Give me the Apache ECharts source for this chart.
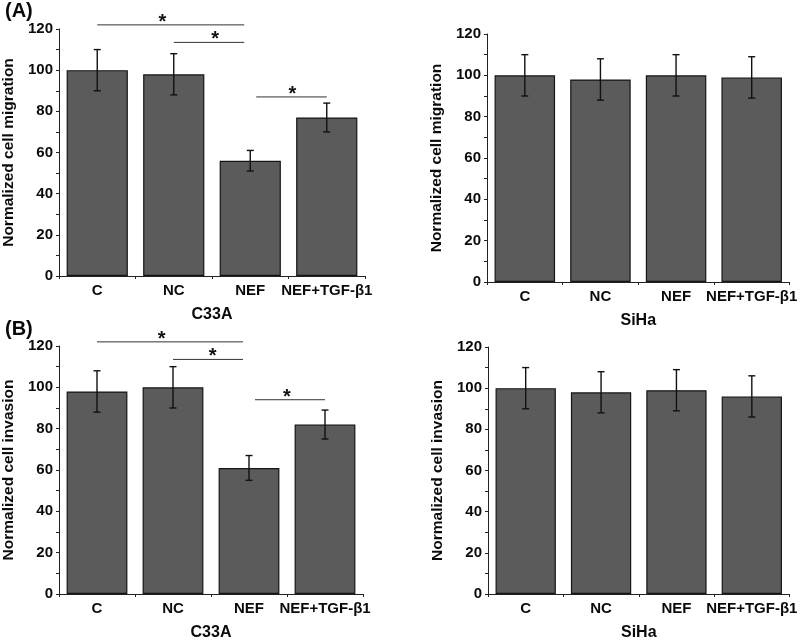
<!DOCTYPE html>
<html>
<head>
<meta charset="utf-8">
<script src="https://cdn.jsdelivr.net/npm/echarts@6/dist/echarts.min.js"></script>
<style>
html,body{margin:0;padding:0;background:#fff;}
#chart{width:800px;height:642px;}
</style>
</head>
<body>
<div id="chart"></div>
<script>
// ---- data ----
var categories = ['C', 'NC', 'NEF', 'NEF+TGF-\u03b21'];
var yTicks = [0, 20, 40, 60, 80, 100, 120];

var migC33A = [100, 98, 56, 77];
var migC33AErr = [10, 10, 5, 7];
var migSiHa = [100, 98, 100, 99];
var migSiHaErr = [10, 10, 10, 10];

var invC33A = [98, 100, 61, 82];
var invC33AErr = [10, 10, 6, 7];
var invSiHa = [100, 98, 99, 96];
var invSiHaErr = [10, 10, 10, 10];

// significance brackets: [fromIndex, toIndex, yValue, starPosition (category units)]
var sigMigC33A = [[0, 2, 122, 0.85], [1, 2, 113.5, 1.54], [2, 3, 87, 2.55]];
var sigInvC33A = [[0, 2, 122, 0.85], [1, 2, 113.5, 1.52], [2, 3, 94, 2.5]];

var panelLabels = ['(A)', '(B)'];
var cellLines = ['C33A', 'SiHa'];
var yNames = ['Normalized cell migration', 'Normalized cell invasion'];

// ---- layout ----
var grids = [
  {left: 59, top: 29, width: 306, height: 247},
  {left: 487, top: 34, width: 305, height: 248},
  {left: 59, top: 346, width: 304, height: 248},
  {left: 488, top: 347, width: 305, height: 249}
];
var panels = [
  {vals: migC33A, err: migC33AErr, sig: sigMigC33A, name: cellLines[0], yName: yNames[0]},
  {vals: migSiHa, err: migSiHaErr, sig: null, name: cellLines[1], yName: yNames[0]},
  {vals: invC33A, err: invC33AErr, sig: sigInvC33A, name: cellLines[0], yName: yNames[1]},
  {vals: invSiHa, err: invSiHaErr, sig: null, name: cellLines[1], yName: yNames[1]}
];

var FONT = 'Liberation Sans, Arial, sans-serif';
var TXT = '#0a0a0a';
var xAxes = [], yAxes = [], series = [];

panels.forEach(function (p, i) {
  xAxes.push({
    type: 'category', gridIndex: i, data: categories,
    name: p.name, nameLocation: 'middle', nameGap: 31,
    nameTextStyle: {fontFamily: FONT, fontWeight: 'bold', fontSize: 16, color: TXT},
    axisLine: {lineStyle: {color: '#222', width: 1}},
    axisTick: {alignWithLabel: true, length: 3, lineStyle: {color: '#222'}},
    axisLabel: {fontFamily: FONT, fontWeight: 'bold', fontSize: 15, color: TXT, margin: 7, interval: 0},
    splitLine: {show: false}
  });
  xAxes.push({
    type: 'category', gridIndex: i, data: categories, position: 'bottom',
    axisLine: {show: false},
    axisTick: {show: true, length: 3, interval: 0, lineStyle: {color: '#222'}},
    axisLabel: {show: false},
    splitLine: {show: false}
  });
  yAxes.push({
    type: 'value', gridIndex: i, min: yTicks[0], max: yTicks[yTicks.length - 1], interval: 20,
    name: p.yName, nameLocation: 'middle', nameGap: 42, nameRotate: 90,
    nameTextStyle: {fontFamily: FONT, fontWeight: 'bold', fontSize: 15.5, color: TXT},
    axisLine: {show: true, lineStyle: {color: '#222', width: 1}},
    axisTick: {show: true, length: 3, lineStyle: {color: '#222'}},
    minorTick: {show: true, splitNumber: 2, length: 3, lineStyle: {color: '#222'}},
    axisLabel: {fontFamily: FONT, fontWeight: 'bold', fontSize: 15, color: TXT, margin: 6},
    splitLine: {show: false}
  });
  var xi = i * 2;
  series.push({
    type: 'bar', xAxisIndex: xi, yAxisIndex: i, data: p.vals, barWidth: '80%',
    itemStyle: {color: '#5b5b5b', borderColor: '#151515', borderWidth: 1.2},
    silent: true
  });
  series.push({
    type: 'custom', xAxisIndex: xi, yAxisIndex: i, silent: true, z: 5,
    data: p.vals.map(function (v, k) { return [k, v - p.err[k], v + p.err[k]]; }),
    renderItem: function (params, api) {
      var lo = api.coord([api.value(0), api.value(1)]);
      var hi = api.coord([api.value(0), api.value(2)]);
      var w = 3.5;
      var st = {stroke: '#111', lineWidth: 1.4};
      return {type: 'group', children: [
        {type: 'line', shape: {x1: lo[0], y1: lo[1], x2: hi[0], y2: hi[1]}, style: st},
        {type: 'line', shape: {x1: lo[0] - w, y1: lo[1], x2: lo[0] + w, y2: lo[1]}, style: st},
        {type: 'line', shape: {x1: hi[0] - w, y1: hi[1], x2: hi[0] + w, y2: hi[1]}, style: st}
      ]};
    }
  });
  if (p.sig) {
    series.push({
      type: 'custom', xAxisIndex: xi, yAxisIndex: i, silent: true, z: 6, clip: false,
      data: p.sig,
      renderItem: function (params, api) {
        var a = api.coord([api.value(0), api.value(2)]);
        var b = api.coord([api.value(1), api.value(2)]);
        var c0 = api.coord([0, api.value(2)]);
        var c1 = api.coord([1, api.value(2)]);
        var step = c1[0] - c0[0];
        var gap = 6;
        var x1 = a[0], x2 = b[0];
        if (api.value(1) === 2) x2 -= gap;
        if (api.value(0) === 2) x1 += gap;
        var sx = c0[0] + step * api.value(3);
        return {type: 'group', children: [
          {type: 'line', shape: {x1: x1, y1: a[1], x2: x2, y2: a[1]}, style: {stroke: '#333', lineWidth: 1}},
          {type: 'text', x: sx, y: a[1] - 2.5, style: {text: '*', fontFamily: FONT, fontWeight: 'bold', fontSize: 20, fill: '#111', align: 'center', verticalAlign: 'middle'}}
        ]};
      }
    });
  }
});

var chart = echarts.init(document.getElementById('chart'), null, {renderer: 'canvas'});
chart.setOption({
  backgroundColor: '#ffffff',
  animation: false,
  title: [
    {text: panelLabels[0], left: 0, top: -4, textStyle: {fontFamily: FONT, fontWeight: 'bold', fontSize: 20, color: TXT}},
    {text: panelLabels[1], left: 0, top: 314, textStyle: {fontFamily: FONT, fontWeight: 'bold', fontSize: 20, color: TXT}}
  ],
  grid: grids.map(function (g) { return Object.assign({containLabel: false}, g); }),
  xAxis: xAxes,
  yAxis: yAxes,
  series: series
});
</script>
</body>
</html>
